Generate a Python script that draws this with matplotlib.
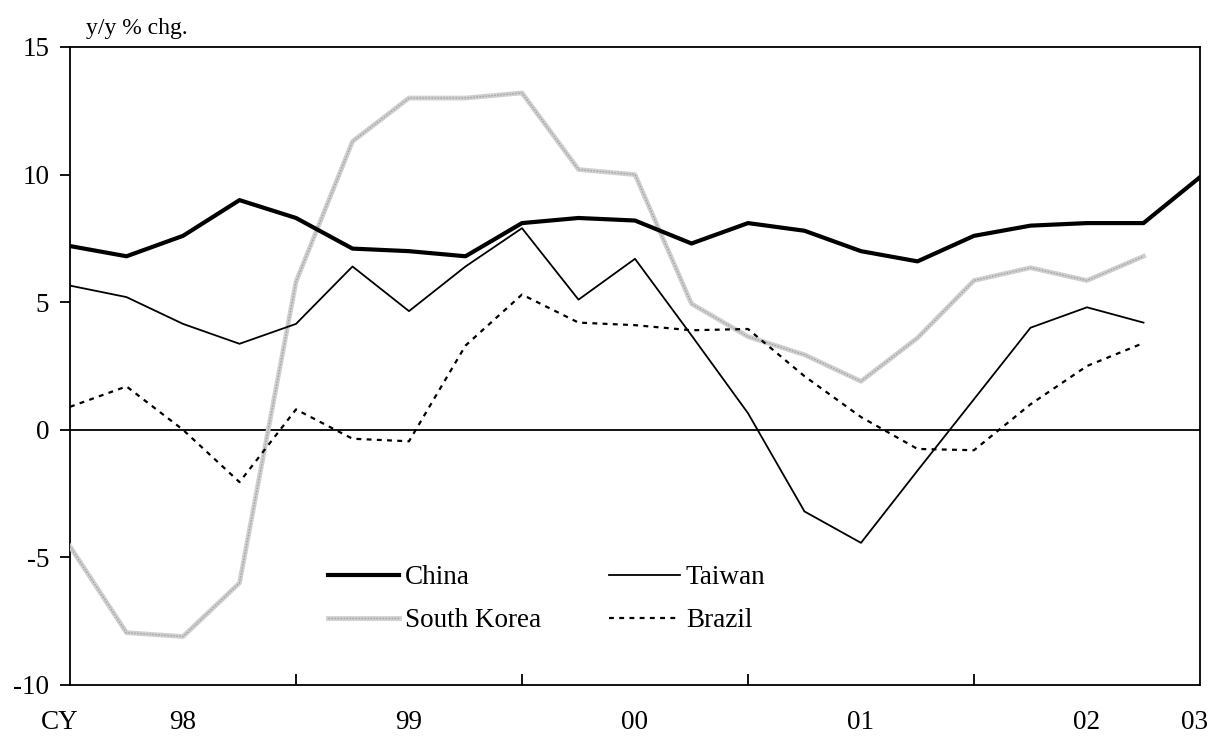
import matplotlib
matplotlib.use("Agg")
import matplotlib.pyplot as plt
from matplotlib.legend_handler import HandlerTuple
from matplotlib.transforms import blended_transform_factory

plt.rcParams['font.family'] = ['Liberation Serif', 'DejaVu Serif']

# quarterly observations, 1998Q1 .. 2003Q1
china = [7.2, 6.8, 7.6, 9.0, 8.3, 7.1, 7.0, 6.8, 8.1, 8.3, 8.2, 7.3, 8.1, 7.8, 7.0, 6.6, 7.6, 8.0, 8.1, 8.1, 9.9]
taiwan = [5.65, 5.2, 4.15, 3.37, 4.15, 6.4, 4.65, 6.4, 7.9, 5.1, 6.7, 3.7, 0.65, -3.2, -4.43, -1.6, 1.2, 4.0, 4.8, 4.2]
south_korea = [-4.57, -7.95, -8.1, -6.0, 5.8, 11.3, 13.0, 13.0, 13.2, 10.2, 10.0, 4.94, 3.65, 2.94, 1.9, 3.6, 5.85, 6.35, 5.85, 6.8]
brazil = [0.9, 1.7, 0.0, -2.05, 0.8, -0.35, -0.45, 3.3, 5.3, 4.2, 4.1, 3.9, 3.95, 2.1, 0.5, -0.75, -0.8, 1.0, 2.5, 3.4]

year_labels = ["98", "99", "00", "01", "02", "03"]
yticks = [-10, -5, 0, 5, 10, 15]

fig = plt.figure(figsize=(12.2, 7.4), dpi=100)
ax = fig.add_axes([70/1220, 55/740, 1130/1220, 638/740])

FS = 19.5

ax.axhline(0, color='black', lw=1.3, zorder=1)

xc = list(range(len(china)))
xt = list(range(len(taiwan)))
xk = list(range(len(south_korea)))
xb = list(range(len(brazil)))

l_china, = ax.plot(xc, china, color='black', lw=3.0, zorder=5)
l_taiwan, = ax.plot(xt, taiwan, color='black', lw=1.3, zorder=4)
l_sk1, = ax.plot(xk, south_korea, color='#cfcfcf', lw=3.4, zorder=3)
l_sk2, = ax.plot(xk, south_korea, color='#a0a0a0', lw=0.9, dashes=(1.2, 1.2), zorder=3)
l_brazil, = ax.plot(xb, brazil, color='black', lw=1.6, dashes=(2.2, 2.4), zorder=4)

ax.set_xlim(0, 20)
ax.set_ylim(-10, 15)

ax.set_yticks(yticks)
ax.set_yticklabels([str(v) for v in yticks], fontsize=FS)
ax.tick_params(axis='y', direction='out', length=7, width=1.3, pad=8)

ax.set_xticks([4, 8, 12, 16])
ax.set_xticklabels([])
ax.tick_params(axis='x', which='major', direction='in', length=8, width=1.3)
label_pos = [2, 6, 10, 14, 18, 19.9]
ax.set_xticks(label_pos, minor=True)
ax.set_xticklabels(year_labels, minor=True, fontsize=FS)
XPAD = 18
ax.tick_params(axis='x', which='minor', length=0, pad=XPAD)

trans = blended_transform_factory(ax.transData, ax.transAxes)
ax.text(-0.18, -(XPAD * 100 / 72) / 638, "CY", transform=trans, fontsize=FS, ha='center', va='top')

for s in ax.spines.values():
    s.set_linewidth(1.3)

ax.text(16 / 1130, 1.012, "y/y % chg.", transform=ax.transAxes, fontsize=17, ha='left', va='bottom')

leg = ax.legend([l_china, (l_sk1, l_sk2), l_taiwan, l_brazil],
                ["China", "South Korea", "Taiwan", "Brazil"],
                handler_map={tuple: HandlerTuple(ndivide=1, pad=0)},
                ncol=2, frameon=False, fontsize=FS,
                loc='upper left', bbox_to_anchor=(0.228, 0.188),
                borderpad=0, borderaxespad=0, handlelength=2.65, handletextpad=0.2,
                columnspacing=2.5, labelspacing=0.67)

fig.savefig("out.png", dpi=100)
